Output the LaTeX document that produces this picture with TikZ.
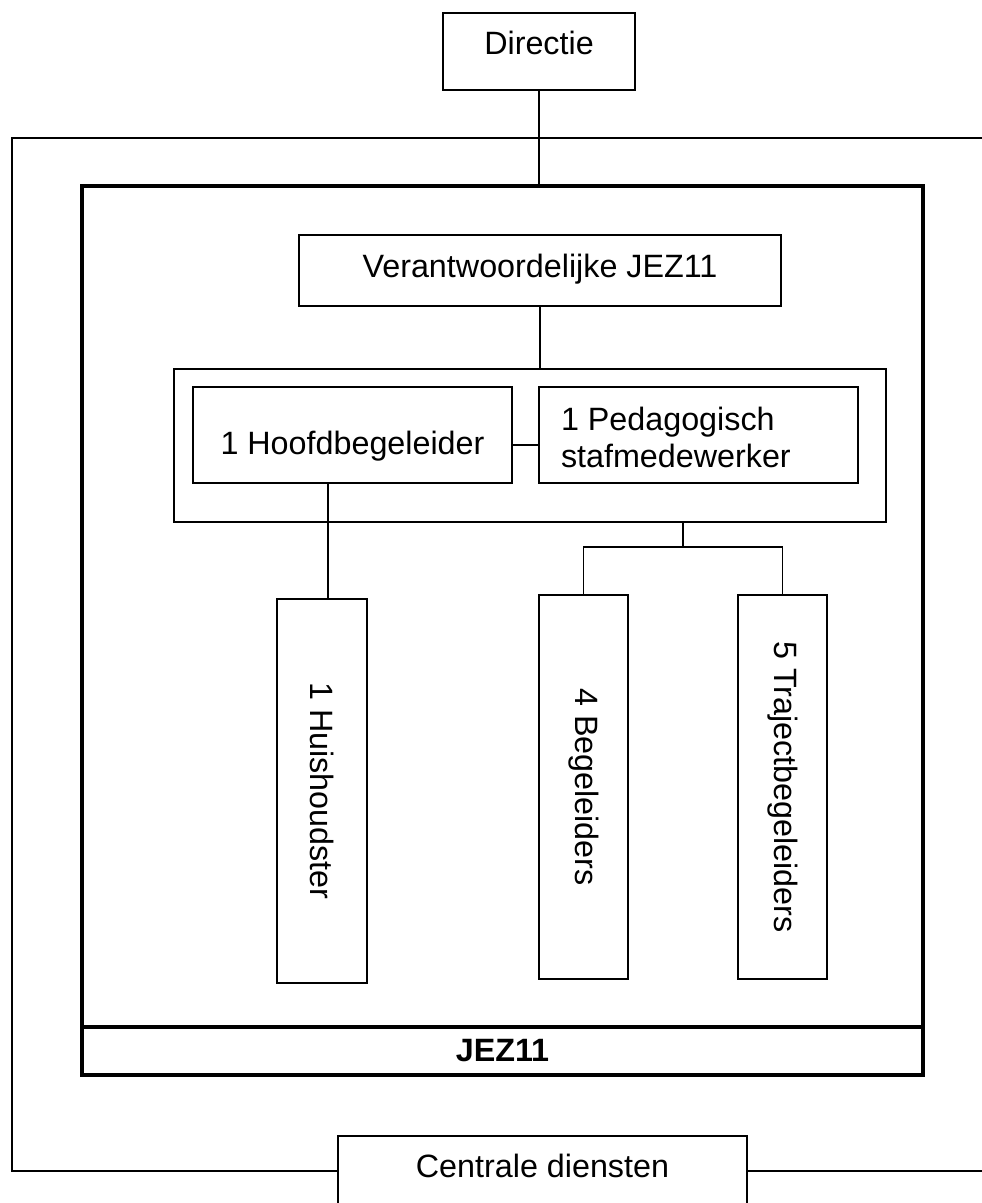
\documentclass[tikz,border=0pt]{standalone}
\usepackage{fontspec}
\setmainfont{Liberation Sans}
\tikzset{
  box/.style={draw, line width=1.5pt, inner sep=0pt, outer sep=0pt},
  thin/.style={line width=1.5pt},
  thickline/.style={line width=4pt},
  vbox/.style={box, rotate=-90, minimum width=384pt},
}
\begin{document}
\begin{tikzpicture}[x=1pt,y=-1pt,font=\fontsize{32.3}{37}\selectfont]
\useasboundingbox (0,0) rectangle (982,1203);
% main boxes
\node[box, anchor=north, minimum width=192pt, text height=41pt, text depth=36pt] (dir) at (539,13) {Directie};
\node[draw, line width=4pt, inner sep=0pt, outer sep=0pt, anchor=north west, minimum width=841pt, minimum height=889pt] (jez) at (82,186) {};
\node[box, anchor=north, minimum width=482pt, text height=42pt, text depth=29pt] (ver) at (540,235) {Verantwoordelijke JEZ11};
\node[box, anchor=north, minimum width=712pt, minimum height=153pt] (grp) at (530,369) {};
\node[box, anchor=north, minimum width=319pt, text height=67.5pt, text depth=28.5pt] (hb) at (352.5,387) {1 Hoofdbegeleider};
\node[box, anchor=north, minimum width=319pt, inner xsep=22pt, text height=43pt, text depth=53pt] (ped) at (698.5,387)
  {\makebox[275pt][l]{\vtop{\baselineskip=37pt\hbox{1 Pedagogisch}\hbox{stafmedewerker}}}};
\node[vbox, minimum height=90pt] (hh) at (322,791) {1 Huishoudster};
\node[vbox, minimum height=89pt] (beg) at (583.5,787) {4 Begeleiders};
\node[vbox, minimum height=89pt] (traj) at (782.5,787) {5 Trajectbegeleiders};
\node[anchor=base, font=\fontsize{32.3}{37}\selectfont\bfseries] (jezlabel) at (502.5,1061) {JEZ11};
\node[box, anchor=north, minimum width=409pt, text height=41pt, text depth=80pt] (cd) at (542.5,1136) {Centrale diensten};
% helper coordinates
\coordinate (div) at (0,1027);
\coordinate (fTR) at (995,138);
\coordinate (fTL) at (12,138);
\coordinate (fBL) at (12,1171);
\coordinate (fBR) at (995,1171);
\coordinate (hbx) at (328,0);
\coordinate (mid) at (0,445);
\coordinate (bus) at (683,547);
% JEZ11 divider
\draw[thickline] (jez.west |- div) -- (jez.east |- div);
% outer frame
\draw[thin] (fTR) -- (fTL) -- (fBL) -- (cd.west |- fBL);
\draw[thin] (cd.east |- fBR) -- (fBR);
% connectors
\draw[thin] (dir.south) -- (dir.south |- jez.north);
\draw[thin] (ver.south) -- (ver.south |- grp.north);
\draw[thin] (hb.east |- mid) -- (ped.west |- mid);
\draw[thin] (hb.south -| hbx) -- (hh.west -| hbx);
\draw[thin] (grp.south -| bus) -- (bus);
\draw[thin] (beg.west) |- (bus) -| (traj.west);
\end{tikzpicture}
\end{document}
